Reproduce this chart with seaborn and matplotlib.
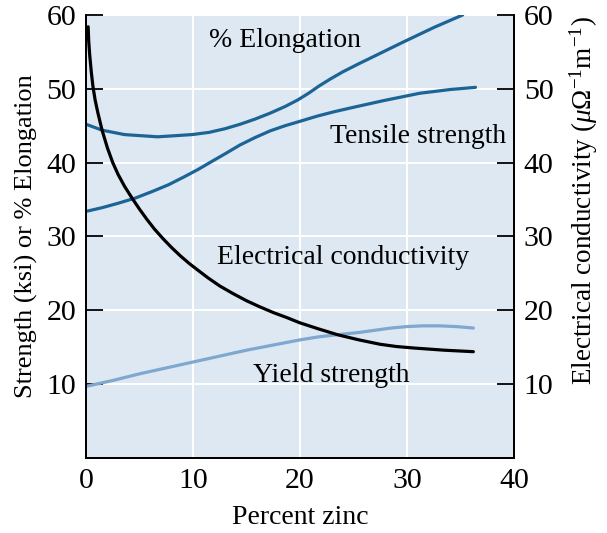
import matplotlib
matplotlib.use("Agg")
import matplotlib.pyplot as plt
import seaborn as sns

# values (percent zinc vs property)
elong_zn = [0, 1.5, 3.6, 6.7, 9.9, 11.5, 13.0, 14.4, 15.8, 17.2, 18.6, 19.8, 20.8,
            21.8, 22.8, 24.0, 25.5, 27.2, 29.6, 32.5, 35.2]
elong_val = [45.2, 44.4, 43.8, 43.5, 43.8, 44.1, 44.6, 45.2, 45.9, 46.7, 47.6, 48.5,
             49.4, 50.4, 51.3, 52.3, 53.4, 54.6, 56.3, 58.3, 60.0]

tensile_zn = [0, 1.5, 3.0, 4.6, 6.2, 7.7, 9.2, 10.5, 11.8, 13.0, 14.4, 15.8, 17.2,
              18.6, 20.0, 21.6, 23.2, 24.7, 27.8, 31.2, 34.0, 36.4]
tensile_val = [33.4, 33.9, 34.5, 35.2, 36.1, 37.0, 38.1, 39.1, 40.2, 41.2, 42.4, 43.4,
               44.3, 45.0, 45.6, 46.3, 46.9, 47.4, 48.4, 49.4, 49.9, 50.2]

yield_zn = [0, 2.5, 5, 7.5, 10, 12.5, 15, 17.5, 20, 21.7, 23.5, 25.5, 27, 28.5, 30,
            31.5, 33, 34.6, 36.2]
yield_val = [9.7, 10.5, 11.4, 12.2, 13.0, 13.8, 14.6, 15.3, 16.0, 16.4, 16.7, 17.0, 17.3,
             17.6, 17.8, 17.9, 17.9, 17.8, 17.6]

cond_zn = [0.2, 0.25, 0.35, 0.5, 0.65, 0.85, 1.1, 1.5, 2.0, 2.5, 3.0, 3.6, 4.3, 5.0,
           5.7, 6.4, 7.2, 8.0, 8.8, 9.6, 10.4, 11.4, 12.5, 13.7, 15.0, 16.2, 17.5,
           18.8, 20.0, 21.7, 23.5, 25.5, 27.5, 29.0, 30.6, 33.5, 36.2]
cond_val = [58.4, 56.5, 54.5, 52.2, 50.3, 48.5, 46.8, 44.4, 42.0, 40.0, 38.4, 36.8,
            35.2, 33.7, 32.3, 31.0, 29.7, 28.5, 27.4, 26.4, 25.5, 24.4, 23.3, 22.3,
            21.3, 20.5, 19.7, 19.0, 18.3, 17.5, 16.7, 16.0, 15.4, 15.1, 14.9, 14.6, 14.4]

x_ticks = [0, 10, 20, 30, 40]
y_ticks = [10, 20, 30, 40, 50, 60]

sns.set_theme(style="white", rc={
    "axes.facecolor": "#dde8f3",
    "axes.edgecolor": "black",
    "axes.linewidth": 1.3,
    "text.color": "black",
    "axes.labelcolor": "black",
    "xtick.color": "black",
    "ytick.color": "black",
})
plt.rcParams["font.family"] = ["Liberation Serif", "DejaVu Serif"]
plt.rcParams["mathtext.fontset"] = "custom"
plt.rcParams["mathtext.rm"] = "Liberation Serif"
plt.rcParams["mathtext.it"] = "Liberation Serif:italic"

fig = plt.figure(figsize=(6.07, 5.33), dpi=100)
ax = fig.add_axes([0.1417, 0.1407, 0.7051, 0.8312])

dark = "#1c6496"
light = "#7ea8cf"

sns.lineplot(x=elong_zn, y=elong_val, ax=ax, color=dark, lw=2.3)
sns.lineplot(x=tensile_zn, y=tensile_val, ax=ax, color=dark, lw=2.3)
sns.lineplot(x=yield_zn, y=yield_val, ax=ax, color=light, lw=2.3)

ax.set_xlim(0, 40)
ax.set_ylim(0, 60)
ax.set_xticks(x_ticks)
ax.set_yticks(y_ticks)
ax.grid(True, color="white", lw=1.4)
ax.set_axisbelow(True)
ax.spines["top"].set_visible(False)
ax.tick_params(axis="both", direction="in", length=12, width=1.3, labelsize=21.5, pad=7)
ax.set_xlabel("Percent zinc", fontsize=20, labelpad=8)
ax.set_ylabel("Strength (ksi) or % Elongation", fontsize=19, labelpad=6)

ax2 = ax.twinx()
sns.lineplot(x=cond_zn, y=cond_val, ax=ax2, color="black", lw=2.3)
ax2.set_ylim(0, 60)
ax2.set_yticks(y_ticks)
ax2.spines["top"].set_visible(False)
ax2.tick_params(axis="y", direction="in", length=12, width=1.3, labelsize=21.5, pad=7)
ax2.set_ylabel(r"Electrical conductivity ($\mathit{\mu\Omega}^{-1}$m$^{-1}$)",
               fontsize=19.5, labelpad=10)
ax2.yaxis.label.set_y(0.58)

ax.text(18.6, 56.6, "% Elongation", fontsize=20, ha="center", va="center")
ax.text(31.0, 43.5, "Tensile strength", fontsize=20, ha="center", va="center")
ax.text(24.0, 27.2, "Electrical conductivity", fontsize=20, ha="center", va="center")
ax.text(22.9, 11.2, "Yield strength", fontsize=20, ha="center", va="center")

fig.savefig("out.png", dpi=100)
